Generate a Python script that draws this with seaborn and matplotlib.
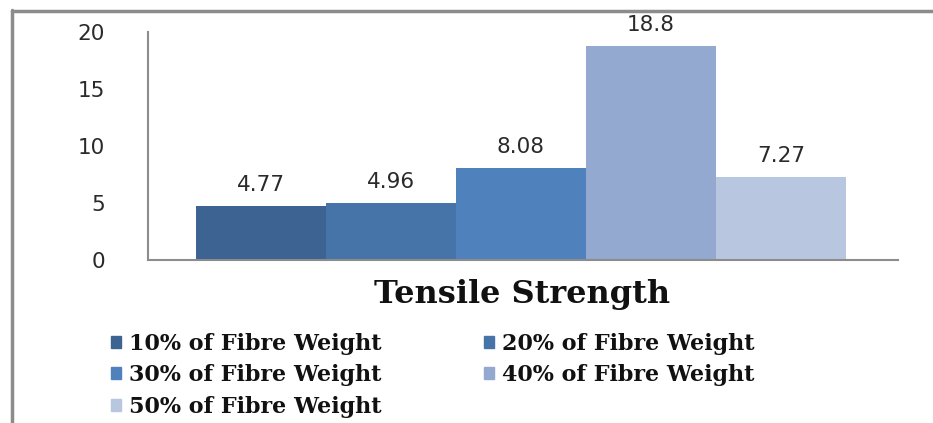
import matplotlib
matplotlib.use("Agg")
import matplotlib.pyplot as plt
from matplotlib.lines import Line2D
import seaborn as sns
import pandas as pd

# Tensile strength for each fibre loading
series = ["10% of Fibre Weight", "20% of Fibre Weight", "30% of Fibre Weight",
          "40% of Fibre Weight", "50% of Fibre Weight"]
values = [4.77, 4.96, 8.08, 18.8, 7.27]
value_labels = ["4.77", "4.96", "8.08", "18.8", "7.27"]
colors = ["#3d6393", "#4673a8", "#4f81bd", "#93a9cf", "#b9c6e0"]
y_ticks = [0, 5, 10, 15, 20]
category = "Tensile Strength"

sns.set_theme(style="white")
plt.rcParams["font.family"] = ["DejaVu Sans"]

df = pd.DataFrame({"series": series, "value": values})

W, H = 933, 423
fig = plt.figure(figsize=(W / 100, H / 100), dpi=100)
ax = fig.add_axes([148 / W, 1 - 260 / H, 750 / W, 228 / H])

sns.barplot(data=df, x="series", y="value", hue="series", order=series,
            hue_order=series, palette=colors, width=1.0, dodge=False,
            saturation=1.0, legend=False, ax=ax, linewidth=0)

ax.set_xlim(-0.5 - 48 / 130, 4.5 + 52 / 130)
ax.set_ylim(0, 20)
ax.set_yticks(y_ticks)
ax.set_yticklabels([str(t) for t in y_ticks], fontsize=15.5, color="#2a2a2a")
ax.tick_params(axis="y", length=0, pad=31)
ax.set_xticks([])
ax.set_xlabel("")
ax.set_ylabel("")

for side in ["top", "right"]:
    ax.spines[side].set_visible(False)
for side in ["left", "bottom"]:
    ax.spines[side].set_color("#8c8c8c")
    ax.spines[side].set_linewidth(1.5)

for bar, lab in zip(ax.patches, value_labels):
    ax.annotate(lab, (bar.get_x() + bar.get_width() / 2, bar.get_height()),
                xytext=(0, 8), textcoords="offset points", ha="center",
                va="bottom", fontsize=15.5, color="#2a2a2a")

fig.text(522 / W, 1 - 294 / H, category, ha="center", va="center",
         fontsize=23, fontweight="bold", family="DejaVu Serif", color="#111111")

# legend laid out row by row in two columns
handles = [plt.Rectangle((0, 0), 1, 1, color=c) for c in colors]
leg_kw = dict(loc="upper left", frameon=False, ncol=1,
              prop={"family": "DejaVu Serif", "size": 16, "weight": "bold"},
              handlelength=0.45, handleheight=0.45, handletextpad=0.35,
              labelspacing=0.42, borderpad=0, borderaxespad=0)
col1 = [0, 2, 4]
col2 = [1, 3]
leg1 = fig.legend([handles[i] for i in col1], [series[i] for i in col1],
                  bbox_to_anchor=(111 / W, 1 - 333 / H), **leg_kw)
leg2 = fig.legend([handles[i] for i in col2], [series[i] for i in col2],
                  bbox_to_anchor=(484 / W, 1 - 333 / H), **leg_kw)
for lg in (leg1, leg2):
    for t in lg.get_texts():
        t.set_color("#111111")

# outer frame
fig.add_artist(Line2D([12 / W, 12 / W], [0, 1 - 10 / H],
                      transform=fig.transFigure, color="#8c8c8c", lw=2.5))
fig.add_artist(Line2D([12 / W, 1], [1 - 11 / H, 1 - 11 / H],
                      transform=fig.transFigure, color="#8c8c8c", lw=2.5))

fig.savefig("out.png", dpi=100)
